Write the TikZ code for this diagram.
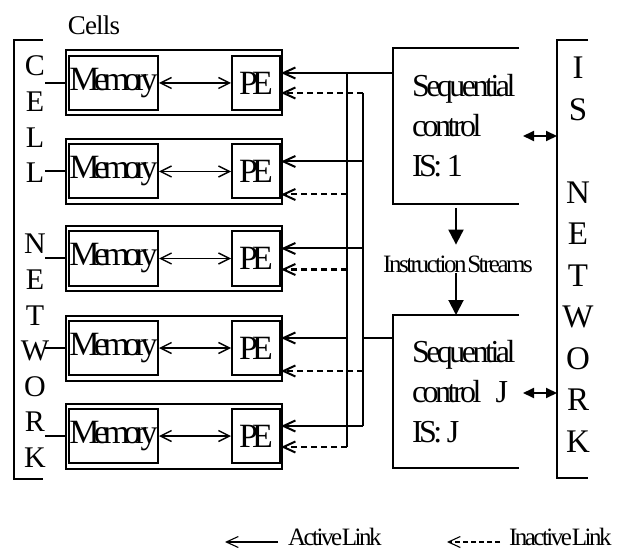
\documentclass[tikz,border=0pt]{standalone}
\usepackage{fontspec}
\setmainfont{Liberation Serif}
\newfontfamily\boxfont[LetterSpace=-17]{Liberation Serif}
\newfontfamily\ctrlfont[LetterSpace=-11]{Liberation Serif}
\newfontfamily\notefont[LetterSpace=-10]{Liberation Serif}
\newfontfamily\labelfont[LetterSpace=-3]{Liberation Serif}
\usetikzlibrary{positioning, arrows.meta}

\begin{document}
\begin{tikzpicture}[
  x=1pt, y=-1pt, line width=2pt,
  cellbox/.style={draw, minimum width=216pt, minimum height=65pt, inner sep=0pt},
  membox/.style={draw, minimum width=89pt, minimum height=54pt, inner sep=0pt,
                 font=\boxfont\fontsize{34}{36}\selectfont},
  pebox/.style={draw, minimum width=48pt, minimum height=54pt, inner sep=0pt,
                font=\boxfont\fontsize{34}{36}\selectfont},
  ctrlbox/.style={minimum width=124pt, inner sep=0pt},
  ctrltext/.style={align=left, inner sep=0pt, font=\ctrlfont\fontsize{32}{40}\selectfont},
  netletters/.style={align=center, inner sep=0pt, anchor=north},
  note/.style={inner sep=0pt, font=\notefont\fontsize{25}{28}\selectfont},
  active/.style={-{Straight Barb[length=12pt,width=11pt]}},
  inactive/.style={-{Straight Barb[length=12pt,width=11pt]}, dash pattern=on 6pt off 4pt},
  memlink/.style={{Straight Barb[length=11pt,width=11pt]}-{Straight Barb[length=11pt,width=11pt]}, line width=1.4pt},
  duplex/.style={{Triangle[length=11pt,width=10pt]}-{Triangle[length=11pt,width=10pt]}},
  flow/.style={-{Triangle[length=15pt,width=15pt]}},
]
  \useasboundingbox (0,0) rectangle (626,553);

  % Cells
  \node[font=\labelfont\fontsize{27}{28}\selectfont, inner sep=0pt] (cellslabel) at (94,25) {Cells};
  \foreach \i/\y in {1/83, 2/171.5, 3/258.5, 4/348, 5/436} {
    \node[cellbox] (cell\i) at (174,\y) {};
    \node[membox] (mem\i) at (113.5,\y) {Memory};
    \node[pebox] (pe\i) at (256,\y) {PE};
    \draw[memlink] (mem\i) -- (pe\i);
  }

  % Cell network
  \draw (43,40) -- (14,40) -- (14,479) -- (43,479);
  \node[netletters, font=\fontsize{30}{35.6}\selectfont] (cellnet) at (35,55)
    {C\\E\\L\\L\\[35.6pt]N\\E\\T\\W\\O\\R\\K};
  \coordinate (cnx) at (45,0);
  \foreach \i in {1,...,5} { \draw (cnx |- cell\i.west) -- (cell\i.west); }

  % Sequential controls
  \node[ctrlbox, minimum height=154pt] (sc1) at (456,126) {};
  \node[ctrlbox, minimum height=151pt] (sc2) at (456,391.5) {};
  \foreach \c in {sc1, sc2} { \draw (\c.north east) -- (\c.north west) -- (\c.south west) -- (\c.south east); }
  \node[ctrltext, anchor=west] (sc1txt) at ([xshift=18pt]sc1.west) {Sequential\\control\\IS: 1};
  \node[ctrltext, anchor=west] (sc2txt) at ([xshift=18pt]sc2.west) {Sequential\\control\hspace{14pt}J\\IS: J};

  % Instruction streams
  \node[note] (istr) at (458,264) {Instruction\hspace{-3pt} Streams};
  \draw[flow, shorten <=4pt, shorten >=10pt] (sc1.south) -- (sc1.south |- istr.north);
  \draw[flow] (sc2.north |- istr.south) -- (sc2.north);

  % IS network
  \draw (588,40) -- (557,40) -- (557,478) -- (588,478);
  \coordinate (isbar) at (557,40);
  \node[netletters, font=\fontsize{33}{41.5}\selectfont] (isnet) at (578,56)
    {I\\S\\[41.5pt]N\\E\\T\\W\\O\\R\\K};
  \coordinate (a1) at ([xshift=4pt,yshift=-10pt]sc1.east);
  \coordinate (a2) at ([xshift=4pt,yshift=-1.5pt]sc2.east);
  \draw[duplex] (a1) -- (isbar |- a1);
  \draw[duplex] (a2) -- (isbar |- a2);

  % Links to the PEs
  \foreach \i/\dy in {1/10, 2/23, 3/11, 4/23, 5/11} {
    \coordinate (on\i) at ([yshift=10pt]pe\i.east);
    \coordinate (off\i) at ([yshift=-\dy pt]pe\i.east);
  }
  \coordinate (busA) at ([xshift=66pt]on1);
  \coordinate (busAend) at (busA |- off5);
  \coordinate (busB) at ([xshift=82pt]off1);
  \coordinate (busBend) at (busB |- on5);
  \draw (busA) -- (busAend);
  \draw (busB) -- (busBend);
  \draw[active] (sc1.west |- on1) -- (on1);
  \draw (sc2.west |- on4) -- (busB |- on4);
  \foreach \i/\b in {2/B, 3/B, 4/A, 5/B} { \draw[active] (bus\b |- on\i) -- (on\i); }
  \foreach \i/\b in {1/B, 2/A, 3/A, 4/B, 5/A} { \draw[inactive] (bus\b |- off\i) -- (off\i); }

  % Legend
  \node[note, anchor=west] (actlbl) at (287,537) {Active\hspace{-4pt} Link};
  \node[note, anchor=west] (inactlbl) at (508,537) {Inactive\hspace{-4pt} Link};
  \coordinate (acttip) at (225,542);
  \coordinate (inacttip) at (447,542);
  \draw[active, line width=1.1pt, shorten <=9pt] (actlbl.west |- acttip) -- (acttip);
  \draw[inactive, line width=1.1pt, shorten <=8pt, dash pattern=on 5pt off 3pt] (inactlbl.west |- inacttip) -- (inacttip);
\end{tikzpicture}
\end{document}
